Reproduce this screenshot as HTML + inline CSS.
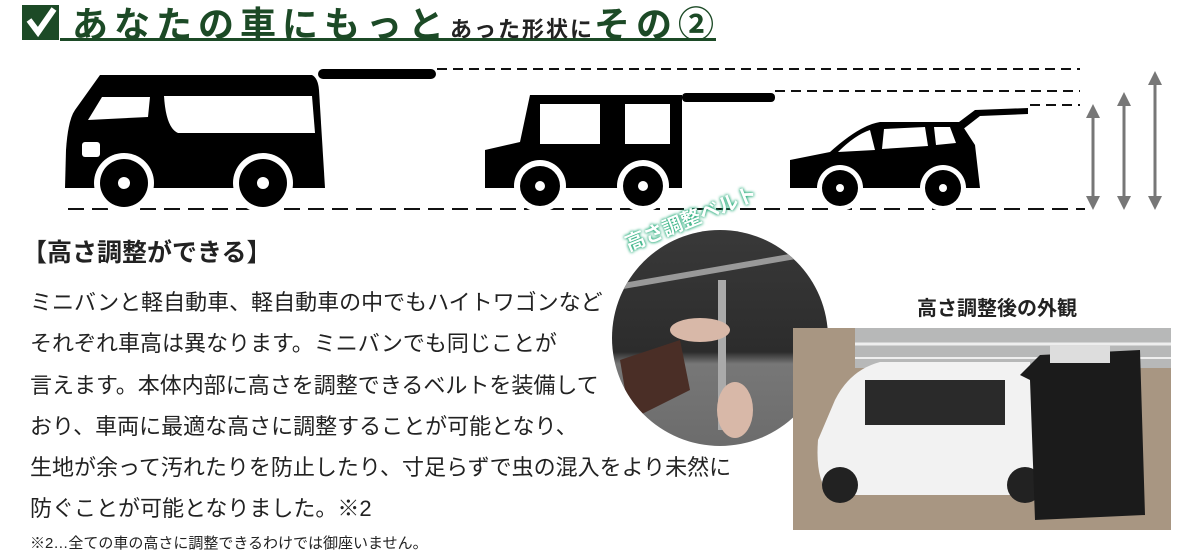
<!DOCTYPE html>
<html><head><meta charset="utf-8"><style>
body{margin:0;width:1200px;height:555px;background:#fff;position:relative;overflow:hidden;font-family:"Liberation Sans","Noto Sans CJK JP",sans-serif;color:#222}
.t{position:absolute;white-space:nowrap}
</style></head><body>
<svg width="1200" height="555" style="position:absolute;left:0;top:0">
<rect x="22" y="5" width="37" height="35" fill="#1c4a26"/>
<path d="M29 20 L38 32 L54 9" stroke="#fff" stroke-width="6" fill="none"/>
<rect x="60" y="38" width="656" height="3" fill="#1c4a26"/>
<g stroke="#111" stroke-width="2" stroke-dasharray="10,6" fill="none">
<line x1="437" y1="69" x2="1080" y2="69"/>
<line x1="775" y1="91" x2="1080" y2="91"/>
<line x1="1030" y1="105" x2="1080" y2="105"/>
</g>
<line x1="68" y1="209" x2="1085" y2="209" stroke="#111" stroke-width="2" stroke-dasharray="16,8"/>
<g fill="#000">
<path d="M100 75 L312 75 Q318 78 319 90 L325 188 L65 188 L66 150 Q68 120 75 110 Z"/>
<rect x="318" y="69" width="118" height="10" rx="5"/>
</g>
<path d="M88 120 L102 97 L150 97 L148 117 Z" fill="#fff"/>
<path d="M164 96 L312 96 L315 133 L178 133 Q166 128 164 96 Z" fill="#fff"/>
<rect x="82" y="142" width="18" height="15" rx="3" fill="#fff"/>
<g fill="#000">
<path d="M530 95 L682 95 L682 188 L485 188 L485 150 L520 142 Z"/>
<rect x="682" y="93" width="93" height="9" rx="4"/>
</g>
<rect x="540" y="104" width="60" height="40" fill="#fff"/>
<rect x="625" y="104" width="45" height="40" fill="#fff"/>
<g fill="#000">
<path d="M790 160 L830 152 Q860 125 880 122 L960 122 L975 145 L980 188 L790 188 Z"/>
<path d="M955 125 L975 110 L1028 108 L1028 114 L980 116 L962 130 Z"/>
</g>
<path d="M838 152 Q855 135 870 130 L875 150 Z" fill="#fff"/>
<path d="M884 129 L925 127 L928 146 L882 149 Z" fill="#fff"/>
<path d="M934 127 L950 127 L956 143 L936 145 Z" fill="#fff"/>
<g>
<circle cx="124" cy="183" r="30" fill="#fff"/><circle cx="124" cy="183" r="24" fill="#000"/><circle cx="124" cy="183" r="6" fill="#fff"/>
<circle cx="263" cy="183" r="30" fill="#fff"/><circle cx="263" cy="183" r="24" fill="#000"/><circle cx="263" cy="183" r="6" fill="#fff"/>
<circle cx="540" cy="186" r="26" fill="#fff"/><circle cx="540" cy="186" r="20" fill="#000"/><circle cx="540" cy="186" r="5" fill="#fff"/>
<circle cx="643" cy="186" r="26" fill="#fff"/><circle cx="643" cy="186" r="20" fill="#000"/><circle cx="643" cy="186" r="5" fill="#fff"/>
<circle cx="840" cy="188" r="23" fill="#fff"/><circle cx="840" cy="188" r="18" fill="#000"/><circle cx="840" cy="188" r="4" fill="#fff"/>
<circle cx="943" cy="188" r="23" fill="#fff"/><circle cx="943" cy="188" r="18" fill="#000"/><circle cx="943" cy="188" r="4" fill="#fff"/>
</g>
<g stroke="#777" stroke-width="3" fill="#777">
<line x1="1093" y1="115" x2="1093" y2="198"/><path d="M1086 118 L1093 104 L1100 118Z M1086 196 L1093 210 L1100 196Z" stroke="none"/>
<line x1="1124" y1="103" x2="1124" y2="198"/><path d="M1117 106 L1124 92 L1131 106Z M1117 196 L1124 210 L1131 196Z" stroke="none"/>
<line x1="1155" y1="82" x2="1155" y2="198"/><path d="M1148 85 L1155 71 L1162 85Z M1148 196 L1155 210 L1162 196Z" stroke="none"/>
</g>
<defs><clipPath id="c"><circle cx="720" cy="338" r="108"/></clipPath>
<linearGradient id="g" x1="0" y1="0" x2="0" y2="1"><stop offset="0" stop-color="#3a3a3a"/><stop offset="0.55" stop-color="#2c2c2c"/><stop offset="0.6" stop-color="#777"/><stop offset="1" stop-color="#6a6a6a"/></linearGradient></defs>
<g clip-path="url(#c)">
<rect x="600" y="220" width="240" height="240" fill="url(#g)"/>
<path d="M600 290 L830 250" stroke="#999" stroke-width="6"/>
<rect x="718" y="280" width="8" height="150" fill="#aaa"/>
<ellipse cx="700" cy="330" rx="30" ry="12" fill="#d8b8a8"/>
<ellipse cx="735" cy="410" rx="18" ry="28" fill="#d8b8a8"/>
<path d="M620 360 L680 340 L690 390 L630 420Z" fill="#4a2e26"/>
</g>
<rect x="793" y="328" width="378" height="202" fill="#a89682"/>
<rect x="855" y="328" width="316" height="40" fill="#b7b8b8"/>
<line x1="855" y1="344" x2="1171" y2="344" stroke="#eee" stroke-width="3"/>
<line x1="855" y1="358" x2="1171" y2="358" stroke="#eee" stroke-width="2"/>
<path d="M835 400 Q850 370 880 362 L1030 362 L1035 495 L830 495 Q815 480 818 440 Z" fill="#f2f2f2"/>
<rect x="865" y="380" width="140" height="45" fill="#2a2a2a"/>
<circle cx="840" cy="485" r="18" fill="#222"/><circle cx="1025" cy="485" r="18" fill="#222"/>
<path d="M1020 375 L1040 355 L1140 350 L1145 515 L1035 520 L1030 380Z" fill="#1b1b1b"/>
<rect x="1050" y="345" width="60" height="18" fill="#ddd"/>
</svg>
<div class="t" style="left:72px;top:-4px;font-size:36px;color:#1c4a26;letter-spacing:6px;font-weight:bold">あなたの車にもっと<span style="font-size:22px;color:#222;letter-spacing:2px">あった形状に</span>その②</div>
<div class="t" style="left:22px;top:233px;font-size:25px;font-weight:bold">【高さ調整ができる】</div>
<div class="t" style="left:620px;top:230px;font-size:20px;font-weight:bold;color:#fff;transform:rotate(-22deg);transform-origin:0 0;text-shadow:0 0 3px #2a7,0 0 3px #2a7">高さ調整ベルト</div>
<div class="t" style="left:917px;top:292px;font-size:20px;font-weight:bold">高さ調整後の外観</div>
<div class="t" style="left:30px;top:282px;font-size:22px;line-height:41.3px">ミニバンと軽自動車、軽自動車の中でもハイトワゴンなど<br>それぞれ車高は異なります。ミニバンでも同じことが<br>言えます。本体内部に高さを調整できるベルトを装備して<br>おり、車両に最適な高さに調整することが可能となり、<br>生地が余って汚れたりを防止したり、寸足らずで虫の混入をより未然に<br>防ぐことが可能となりました。※2</div>
<div class="t" style="left:30px;top:532px;font-size:15px">※2…全ての車の高さに調整できるわけでは御座いません。</div>
</body></html>
